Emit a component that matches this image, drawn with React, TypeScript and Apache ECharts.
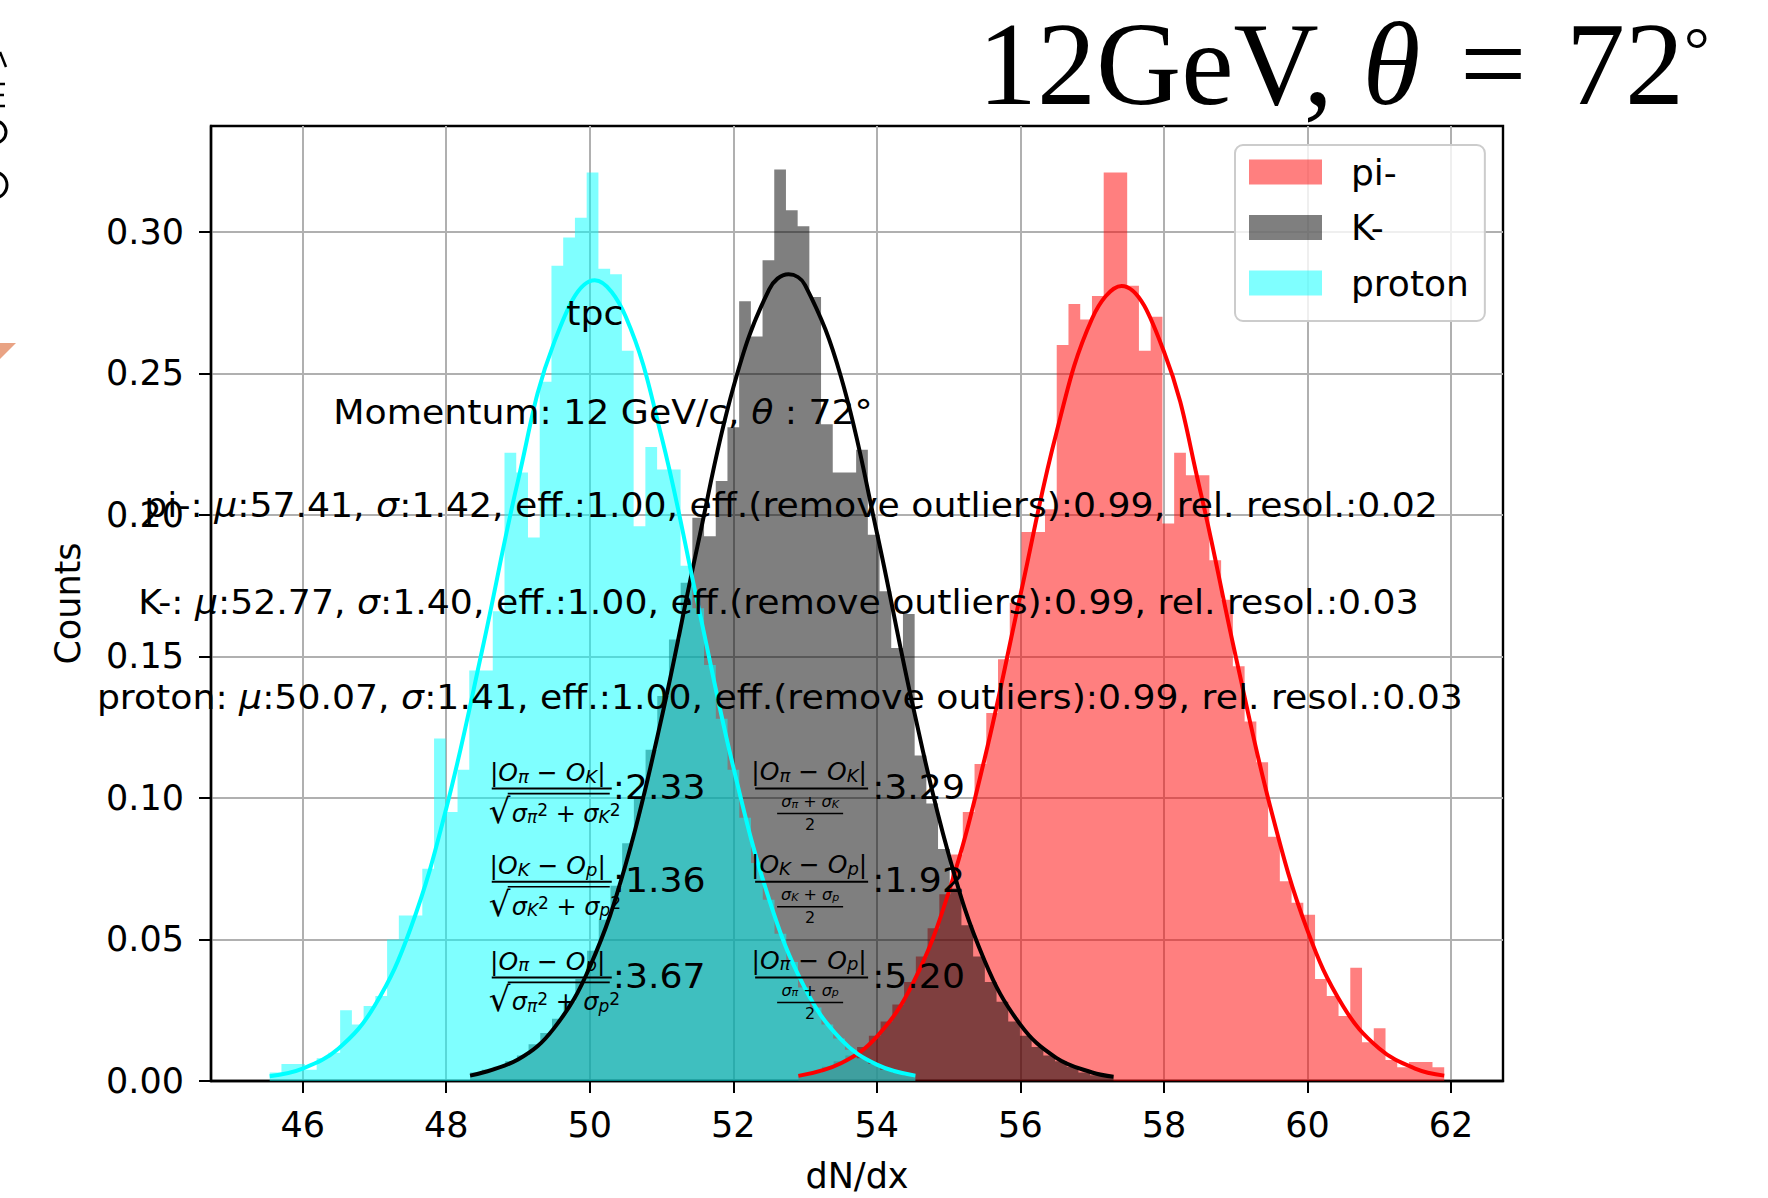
import React, { useEffect, useRef } from 'react';
import * as echarts from 'echarts';

const xTickValues = [46, 48, 50, 52, 54, 56, 58, 60, 62];
const yTickValues = [0, 0.05, 0.1, 0.15, 0.2, 0.25, 0.3];
const xRange = [44.722, 62.725];
const yRange = [0, 0.3374];

const legendNames = ['pi-', 'K-', 'proton'];

// histogram densities (55 bins each, spanning the given range)
const piBinRange = [52.907, 61.906];
const piDensity = [0.002, 0.003, 0.005, 0.007, 0.009, 0.012, 0.016, 0.021, 0.027, 0.035, 0.044, 0.054, 0.066, 0.080, 0.095, 0.112, 0.130, 0.149, 0.169, 0.194, 0.194, 0.202, 0.260, 0.2745, 0.269, 0.2773, 0.321, 0.321, 0.281, 0.258, 0.270, 0.197, 0.222, 0.214, 0.214, 0.184, 0.170, 0.1465, 0.127, 0.1126, 0.0863, 0.0706, 0.063, 0.0587, 0.036, 0.030, 0.023, 0.040, 0.0137, 0.0186, 0.0074, 0.0049, 0.0067, 0.0067, 0.0049];

const kBinRange = [48.332, 57.298];
const kDensity = [0.003, 0.004, 0.005, 0.007, 0.009, 0.013, 0.017, 0.022, 0.028, 0.036, 0.046, 0.057, 0.069, 0.084, 0.100, 0.117, 0.136, 0.156, 0.176, 0.199, 0.1925, 0.212, 0.231, 0.2755, 0.263, 0.290, 0.322, 0.3076, 0.302, 0.277, 0.232, 0.215, 0.215, 0.223, 0.193, 0.173, 0.153, 0.165, 0.115, 0.098, 0.082, 0.068, 0.055, 0.044, 0.035, 0.028, 0.021, 0.016, 0.012, 0.009, 0.007, 0.005, 0.003, 0.002, 0.002];

const protonBinRange = [45.54, 54.537];
const protonDensity = [0.003, 0.006, 0.006, 0.004, 0.008, 0.010, 0.025, 0.020, 0.0265, 0.030, 0.050, 0.0585, 0.0585, 0.075, 0.121, 0.095, 0.110, 0.145, 0.145, 0.166, 0.222, 0.215, 0.192, 0.247, 0.288, 0.298, 0.305, 0.321, 0.287, 0.285, 0.258, 0.196, 0.224, 0.216, 0.216, 0.182, 0.167, 0.147, 0.128, 0.110, 0.093, 0.077, 0.064, 0.052, 0.042, 0.033, 0.026, 0.020, 0.015, 0.011, 0.008, 0.006, 0.004, 0.003, 0.002];

// fitted curves
const piFitX = [52.907, 53.5, 54.0, 54.5, 55.0, 55.5, 56.0, 56.5, 57.0, 57.41, 58.0, 58.5, 59.0, 59.5, 60.0, 60.5, 61.0, 61.5, 61.906];
const piFitY = [0.0018, 0.0063, 0.0157, 0.0344, 0.0666, 0.1137, 0.1716, 0.2288, 0.2694, 0.2809, 0.2577, 0.2092, 0.1501, 0.0951, 0.0532, 0.0263, 0.0115, 0.0044, 0.0019];
const kFitX = [48.332, 49.0, 49.5, 50.0, 50.5, 51.0, 51.5, 52.0, 52.5, 52.77, 53.0, 53.5, 54.0, 54.5, 55.0, 55.5, 56.0, 56.5, 57.0, 57.298];
const kFitY = [0.0019, 0.0076, 0.0186, 0.0403, 0.0765, 0.1282, 0.1889, 0.2450, 0.2797, 0.2850, 0.2812, 0.2488, 0.1938, 0.1328, 0.0801, 0.0426, 0.0199, 0.0082, 0.0030, 0.0015];
const protonFitX = [45.54, 46.0, 46.5, 47.0, 47.5, 48.0, 48.5, 49.0, 49.5, 50.07, 50.5, 51.0, 51.5, 52.0, 52.5, 53.0, 53.5, 54.0, 54.537];
const protonFitY = [0.0017, 0.0044, 0.0115, 0.0265, 0.0537, 0.0963, 0.1522, 0.2121, 0.2607, 0.2829, 0.2701, 0.2276, 0.1692, 0.1109, 0.0641, 0.0327, 0.0147, 0.0058, 0.0019];

const statLines = [
  'pi-: {i|μ}:57.41, {i|σ}:1.42, eff.:1.00, eff.(remove outliers):0.99, rel. resol.:0.02',
  'K-: {i|μ}:52.77, {i|σ}:1.40, eff.:1.00, eff.(remove outliers):0.99, rel. resol.:0.03',
  'proton: {i|μ}:50.07, {i|σ}:1.41, eff.:1.00, eff.(remove outliers):0.99, rel. resol.:0.03',
];
const statAnchors = [[52.806, 0.2035], [52.631, 0.1693], [52.649, 0.1357]];

const sepValuesSqrt = [':2.33', ':1.36', ':3.67'];
const sepValuesMean = [':3.29', ':1.92', ':5.20'];
const sepNumerators = [
  '|{i|O}{s|π} − {i|O}{s|K}|',
  '|{i|O}{s|K} − {i|O}{s|p}|',
  '|{i|O}{s|π} − {i|O}{s|p}|',
];
const sepRadicands = [
  '{i|σ}{s|π}{u|2} + {i|σ}{s|K}{u|2}',
  '{i|σ}{s|K}{u|2} + {i|σ}{s|p}{u|2}',
  '{i|σ}{s|π}{u|2} + {i|σ}{s|p}{u|2}',
];
const sepMeans = [
  '{i|σ}{s|π} + {i|σ}{s|K}',
  '{i|σ}{s|K} + {i|σ}{s|p}',
  '{i|σ}{s|π} + {i|σ}{s|p}',
];
const sepLeftX = 48.634;
const sepRightX = 52.304;
const sepRowY = [0.1033, 0.0704, 0.0366];

const DV = 'DejaVu Sans';
const LS = 'Liberation Serif';
const SX = 1.065;

function histSteps(range: number[], dens: number[]) {
  const n = dens.length;
  const w = (range[1] - range[0]) / n;
  const pts = dens.map((d, i) => [range[0] + i * w, d]);
  pts.push([range[1], dens[n - 1]]);
  return pts;
}
const zip = (xs: number[], ys: number[]) => xs.map((x, i) => [x, ys[i]]);

function mathRich(base: number) {
  return {
    i: { fontStyle: 'italic', fontFamily: DV, fontSize: base, lineHeight: base },
    s: { fontStyle: 'italic', fontFamily: DV, fontSize: Math.round(base * 0.7), lineHeight: Math.round(base * 0.7), verticalAlign: 'bottom' },
    u: { fontFamily: DV, fontSize: Math.round(base * 0.7), lineHeight: Math.round(base * 0.7), verticalAlign: 'top' },
  };
}

function txt(x: number, y: number, text: string, extra: any = {}, sx = 1) {
  return {
    type: 'text', x, y, scaleX: sx, z: 50, silent: true,
    style: { text, fill: '#000', fontFamily: DV, fontSize: 34, align: 'left', verticalAlign: 'middle', ...extra },
  };
}
function seg(x1: number, y1: number, x2: number, y2: number, w: number) {
  return { type: 'line', z: 50, silent: true, shape: { x1, y1, x2, y2 }, style: { stroke: '#000', lineWidth: w } };
}
function stroke(shape: any, type: string, w: number) {
  return { type, z: 50, silent: true, shape, style: { stroke: '#000', lineWidth: w, fill: null } };
}

function fracSqrt(x0: number, y0: number, num: string, rad: string, val: string) {
  return [
    txt(x0 + 56, y0 - 16, num, { align: 'center', fontSize: 25, lineHeight: 24, rich: mathRich(25) }),
    seg(x0, y0, x0 + 120, y0, 2),
    txt(x0 - 3, y0 + 22, '√', { fontSize: 34, lineHeight: 34 }),
    seg(x0 + 16, y0 + 5, x0 + 118, y0 + 5, 1.6),
    txt(x0 + 20, y0 + 25, rad, { fontSize: 24, lineHeight: 22, rich: mathRich(24) }),
    txt(x0 + 121, y0 - 2, val, { lineHeight: 26 }, SX),
  ];
}
function fracMean(x0: number, y0: number, num: string, inner: string, val: string) {
  return [
    txt(x0 + 54, y0 - 17, num, { align: 'center', fontSize: 25, lineHeight: 24, rich: mathRich(25) }),
    seg(x0, y0, x0 + 113, y0, 2),
    txt(x0 + 55, y0 + 13, inner, { align: 'center', fontSize: 16, lineHeight: 15, rich: mathRich(16) }),
    seg(x0 + 22, y0 + 25, x0 + 88, y0 + 25, 1.5),
    txt(x0 + 55, y0 + 36, '2', { align: 'center', fontSize: 16, lineHeight: 15 }),
    txt(x0 + 117, y0 - 2, val, { lineHeight: 26 }, SX),
  ];
}

export default function App() {
  const ref = useRef<HTMLDivElement>(null);
  useEffect(() => {
    const chart = echarts.init(ref.current!, null, { renderer: 'svg' });
    const colors = ['rgba(255,0,0,0.5)', 'rgba(0,0,0,0.5)', 'rgba(0,255,255,0.5)'];
    const hists = [
      histSteps(piBinRange, piDensity),
      histSteps(kBinRange, kDensity),
      histSteps(protonBinRange, protonDensity),
    ];
    const fits = [zip(piFitX, piFitY), zip(kFitX, kFitY), zip(protonFitX, protonFitY)];
    const fitColors = ['#ff0000', '#000000', '#00ffff'];
    const axisFont = { fontFamily: DV, fontSize: 35, color: '#000' };

    const series: any[] = [];
    hists.forEach((d, i) => {
      series.push({
        name: legendNames[i], type: 'line', step: 'end', data: d,
        symbol: 'none', showSymbol: false, silent: true,
        lineStyle: { width: 0, opacity: 0 },
        itemStyle: { color: colors[i] },
        areaStyle: { color: colors[i], opacity: 1 },
        z: 2,
      });
    });
    fits.forEach((d, i) => {
      series.push({
        name: 'fit' + i, type: 'line', data: d, smooth: 0.4,
        symbol: 'none', showSymbol: false, silent: true,
        lineStyle: { color: fitColors[i], width: 4 },
        z: 3,
      });
    });

    chart.setOption({
      animation: false,
      backgroundColor: '#ffffff',
      grid: { left: 211, right: 265, top: 126, bottom: 112, show: true, borderColor: '#000', borderWidth: 2.4, backgroundColor: 'transparent' },
      legend: {
        data: legendNames, orient: 'vertical', left: 1235, top: 145,
        itemWidth: 73, itemHeight: 25, itemGap: 19.5, icon: 'rect',
        padding: [9, 16, 20, 14],
        backgroundColor: 'rgba(255,255,255,0.8)', borderColor: '#cccccc', borderWidth: 2, borderRadius: 8,
        textStyle: { fontFamily: DV, fontSize: 36, color: '#000', lineHeight: 34, padding: [0, 0, 0, 24] },
        selectedMode: false,
      },
      xAxis: {
        type: 'value', min: xRange[0], max: xRange[1],
        name: 'dN/dx', nameLocation: 'middle', nameGap: 77, nameTextStyle: axisFont,
        axisLine: { show: true, onZero: false, lineStyle: { color: '#000', width: 2.4 } },
        axisTick: { show: true, length: 12, lineStyle: { color: '#000', width: 2 }, customValues: xTickValues },
        axisLabel: { customValues: xTickValues, margin: 26, ...axisFont, formatter: (v: number) => String(v) },
        splitLine: { show: true, lineStyle: { color: '#b0b0b0', width: 2 } },
      },
      yAxis: {
        type: 'value', min: yRange[0], max: yRange[1],
        name: 'Counts', nameLocation: 'middle', nameGap: 126, nameRotate: 90, nameTextStyle: axisFont,
        axisLine: { show: true, lineStyle: { color: '#000', width: 2.4 } },
        axisTick: { show: true, length: 12, lineStyle: { color: '#000', width: 2 }, customValues: yTickValues },
        axisLabel: { customValues: yTickValues, margin: 27, ...axisFont, formatter: (v: number) => v.toFixed(2) },
        splitLine: { show: true, lineStyle: { color: '#b0b0b0', width: 2 } },
      },
      series,
    });

    const P = (x: number, y: number) => chart.convertToPixel({ gridIndex: 0 }, [x, y]) as number[];
    const g: any[] = [];
    // figure title
    g.push({
      type: 'text', x: 978, y: 64, z: 50, silent: true,
      style: {
        text: '12GeV, {i|θ} {e|=} 72{d|°}', fill: '#000', fontFamily: LS, fontSize: 118, lineHeight: 118,
        align: 'left', verticalAlign: 'middle',
        rich: {
          i: { fontFamily: LS, fontStyle: 'italic', fontSize: 118, lineHeight: 118 },
          e: { fontFamily: LS, fontSize: 118, lineHeight: 118, padding: [0, 10, 0, 10] },
          d: { fontFamily: LS, fontSize: 64, lineHeight: 64, verticalAlign: 'top', padding: [12, 0, 0, 0] },
        },
      },
    });
    // cut-off pieces of the neighbouring slide at the left edge
    g.push({ type: 'polygon', silent: true, shape: { points: [[0, 343], [16, 343], [0, 359]] }, style: { fill: '#E9A384' } });
    g.push(seg(0, 52, 6, 67, 2.5));
    g.push(seg(0, 84, 5, 84, 2.5));
    g.push(seg(0, 95, 4, 95, 2.5));
    g.push(seg(0, 106, 5, 106, 2.5));
    g.push(stroke({ cx: -5, cy: 132, r: 11, startAngle: -Math.PI / 2, endAngle: Math.PI / 2, clockwise: true }, 'arc', 3));
    g.push(stroke({ cx: -6, cy: 185, r: 13, startAngle: -Math.PI / 2, endAngle: Math.PI / 2, clockwise: true }, 'arc', 3));

    const tpc = P(50.07, 0.2715);
    g.push(txt(tpc[0], tpc[1], 'tpc', { align: 'center' }, SX));
    const mom = P(46.427, 0.2363);
    g.push(txt(mom[0], mom[1], 'Momentum: 12 GeV/c, {i|θ} : 72°', { rich: { i: { fontStyle: 'italic', fontFamily: DV, fontSize: 34 } } }, SX));
    statLines.forEach((s, i) => {
      const p = P(statAnchors[i][0], statAnchors[i][1]);
      g.push(txt(p[0], p[1], s, { align: 'center', rich: { i: { fontStyle: 'italic', fontFamily: DV, fontSize: 34 } } }, SX));
    });
    sepRowY.forEach((yv, i) => {
      const a = P(sepLeftX, yv);
      g.push(...fracSqrt(a[0], a[1], sepNumerators[i], sepRadicands[i], sepValuesSqrt[i]));
      const b = P(sepRightX, yv);
      g.push(...fracMean(b[0], b[1], sepNumerators[i], sepMeans[i], sepValuesMean[i]));
    });
    chart.setOption({ graphic: g });

    return () => chart.dispose();
  }, []);
  return <div ref={ref} style={{ position: 'fixed', left: 0, top: 0, width: 1768, height: 1198, background: '#fff' }} />;
}
